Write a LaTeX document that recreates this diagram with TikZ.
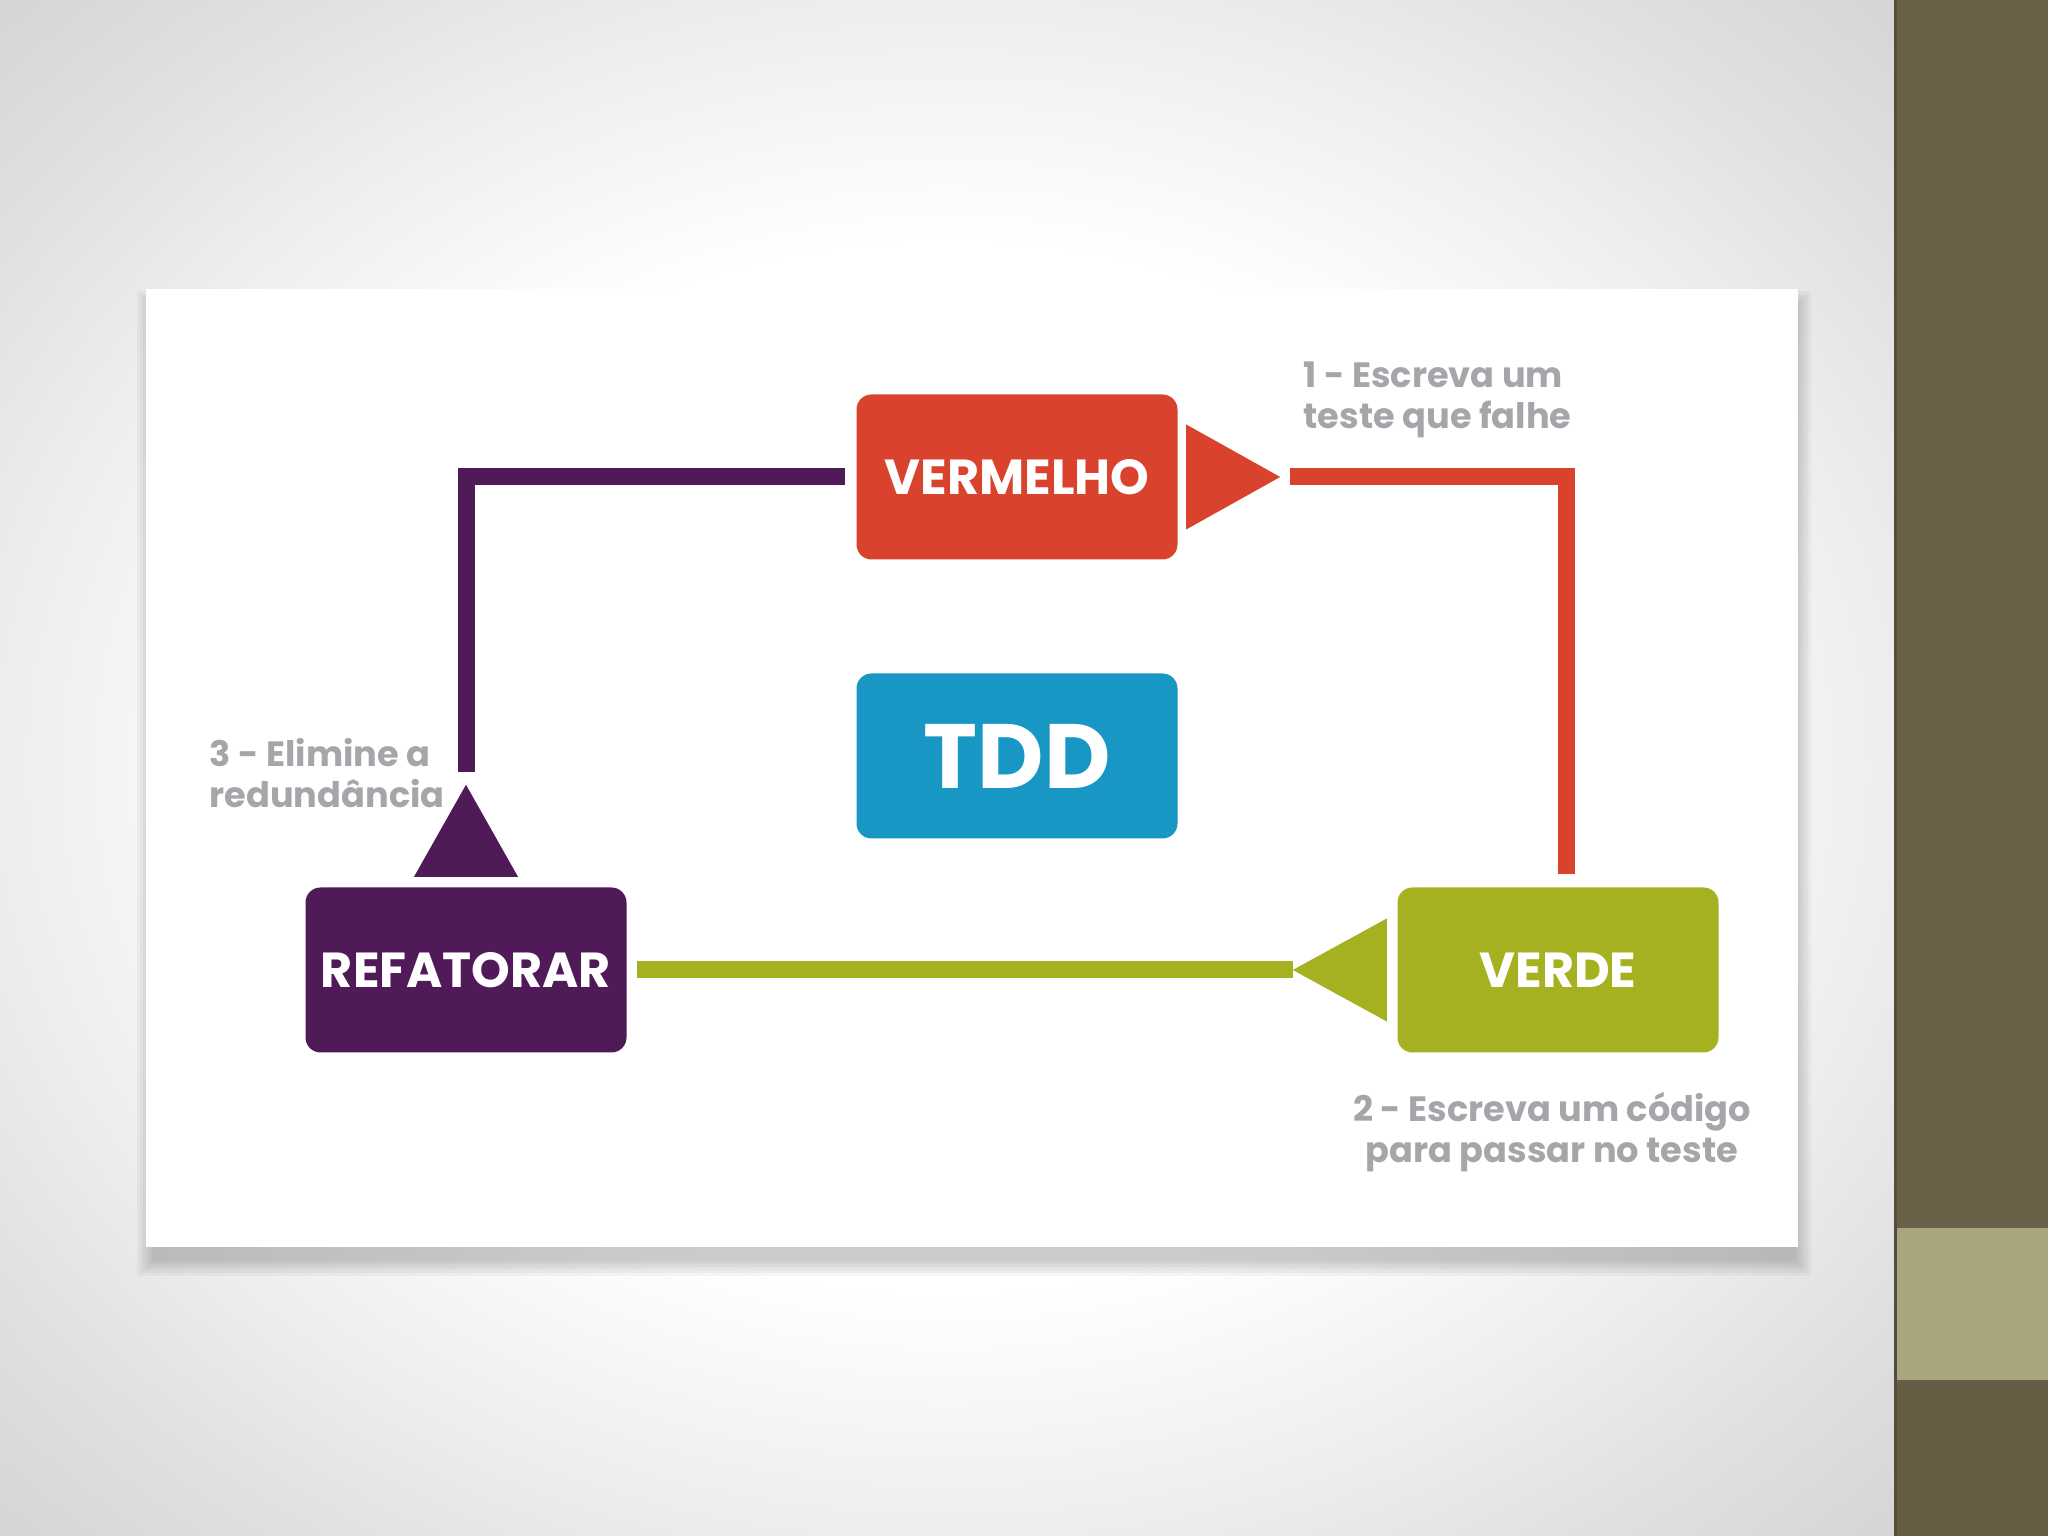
\documentclass[tikz,border=0pt]{standalone}
\usepackage{fontspec}
\setmainfont{Poppins}
\usepackage{tikz}
\usetikzlibrary{calc}
\definecolor{vermelho}{RGB}{217,67,45}
\definecolor{verde}{RGB}{165,177,32}
\definecolor{roxo}{RGB}{80,26,88}
\definecolor{azul}{RGB}{24,150,196}
\definecolor{cinza}{RGB}{165,165,170}
\definecolor{faixa}{RGB}{106,95,71}
\definecolor{faixaclara}{RGB}{168,166,124}
\definecolor{faixabaixo}{RGB}{101,94,69}
\pgfdeclareradialshading{fundo}{\pgfpoint{0cm}{0cm}}{%
    color(0bp)=(white); color(17bp)=(white); color(25bp)=(black!7);
    color(30bp)=(black!12); color(36bp)=(black!17); color(50bp)=(black!17)}

\begin{document}
\begin{tikzpicture}[
    caixa/.style={rounded corners=0.15cm, minimum width=3.21cm, minimum height=1.65cm,
        inner sep=0pt, text=white, font=\bfseries\fontsize{14}{16}\selectfont},
    passo/.style={text=cinza, inner sep=0pt, font=\bfseries\fontsize{10}{11.5}\selectfont},
    linha/.style={line width=0.17cm}
]
    \useasboundingbox (0,0) rectangle (20.48,15.36);
    % fundo
    \shade[shading=fundo] (0,0) rectangle (18.94,15.36);
    \fill[faixa] (18.94,3.08) rectangle (20.48,15.36);
    \fill[faixaclara] (18.94,1.56) rectangle (20.48,3.08);
    \fill[faixabaixo] (18.94,0) rectangle (20.48,1.56);
    \fill[faixa!80!black] (18.94,0) rectangle (18.97,15.36);
    % cartao com sombra
    \foreach \s in {0,0.03,...,0.15}
        \fill[black, opacity=0.035] (1.52-\s,2.75-\s) rectangle (17.96+\s,12.30+\s);
    \fill[white] (1.46,2.89) rectangle (17.98,12.47);

    \node[caixa, fill=vermelho] (ver) at (10.17,10.59) {VERMELHO};
    \node[caixa, fill=azul, font=\bfseries\fontsize{26}{28}\selectfont] (tdd) at (10.17,7.80) {TDD};
    \node[caixa, fill=roxo] (ref) at (4.66,5.66) {REFATORAR};
    \node[caixa, fill=verde] (vrd) at (15.58,5.66) {VERDE};

    % ligacoes
    \draw[linha, roxo] ([xshift=-0.11cm]ver.west) -| ([yshift=1.15cm]ref.north);
    \draw[linha, vermelho] ([xshift=1.12cm]ver.east) -| ([xshift=0.08cm, yshift=0.13cm]vrd.north);
    \draw[linha, verde] ([xshift=-1.04cm]vrd.west) -- ([xshift=0.10cm]ref.east);
    \fill[vermelho] ([xshift=0.08cm, yshift=0.525cm]ver.east) -- ++(0.94,-0.525) -- ++(-0.94,-0.525) -- cycle;
    \fill[verde] ([xshift=-0.10cm, yshift=0.515cm]vrd.west) -- ++(-0.94,-0.515) -- ++(0.94,-0.515) -- cycle;
    \fill[roxo] ([xshift=-0.52cm, yshift=0.10cm]ref.north) -- ++(0.52,0.92) -- ++(0.52,-0.92) -- cycle;

    \node[passo, anchor=west, align=left] (p1) at (13.03,11.36) {1 - Escreva um\\teste que falhe};
    \node[passo, anchor=center, align=center] (p2) at (15.52,4.04) {2 - Escreva um código\\para passar no teste};
    \node[passo, anchor=west, align=left] (p3) at (2.09,7.63) {3 - Elimine a\\redundância};
\end{tikzpicture}
\end{document}
